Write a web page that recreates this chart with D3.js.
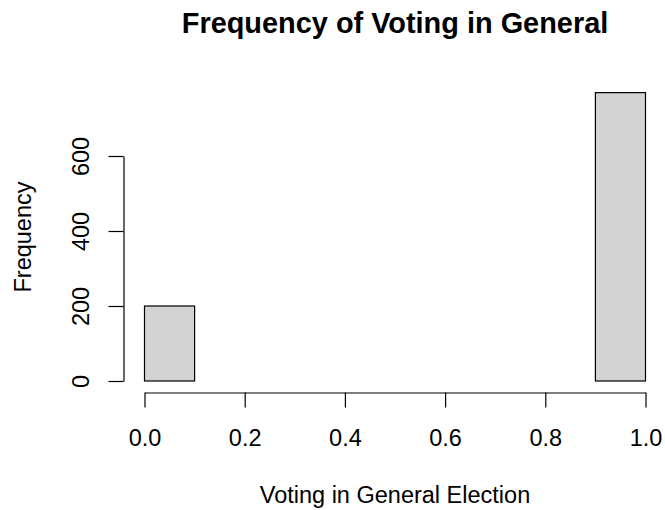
<!DOCTYPE html>
<html>
<head>
<meta charset="utf-8">
<script src="https://cdn.jsdelivr.net/npm/d3@7"></script>
<style>
  body { margin: 0; background: #fff; }
  text { font-family: "Liberation Sans", Arial, sans-serif; fill: #000; }
</style>
</head>
<body>
<div id="chart"></div>
<script>
// histogram of voting in general election
var binEdges = [0, 0.1, 0.2, 0.3, 0.4, 0.5, 0.6, 0.7, 0.8, 0.9, 1.0];
var counts = [200, 0, 0, 0, 0, 0, 0, 0, 0, 769];
var xTicks = [0, 0.2, 0.4, 0.6, 0.8, 1.0];
var yTicks = [0, 200, 400, 600];

var W = 665, H = 510;
var svg = d3.select("#chart").append("svg").attr("width", W).attr("height", H);

var x = d3.scaleLinear().domain([0, 1]).range([144.5, 645.5]);
var y = d3.scaleLinear().domain([0, 600]).range([381, 156]);

var bins = counts.map(function(c, i){ return {x0: binEdges[i], x1: binEdges[i+1], n: c}; });

svg.selectAll("rect.bar").data(bins).enter().append("rect")
    .attr("class", "bar")
    .attr("x", d => x(d.x0))
    .attr("width", d => x(d.x1) - x(d.x0))
    .attr("y", d => y(d.n))
    .attr("height", d => y(0) - y(d.n))
    .attr("fill", "#D3D3D3")
    .attr("stroke", "#000")
    .attr("stroke-width", 1.2);

// x axis
var xa = svg.append("g").attr("transform", "translate(0,392.5)")
    .call(d3.axisBottom(x).tickValues(xTicks).tickFormat(d3.format(".1f")).tickSize(15).tickSizeOuter(0));
xa.select(".domain").attr("stroke-width", 1.2);
xa.selectAll(".tick line").attr("stroke-width", 1.2);
xa.selectAll(".tick text").attr("font-size", 23.5).attr("y", 0).attr("dy", 0)
    .attr("transform", "translate(0,53.5)");

// y axis
var ya = svg.append("g").attr("transform", "translate(123.5,0)")
    .call(d3.axisLeft(y).tickValues(yTicks).tickSize(15).tickSizeOuter(0));
ya.select(".domain").attr("stroke-width", 1.2);
ya.selectAll(".tick line").attr("stroke-width", 1.2);
ya.selectAll(".tick text").attr("font-size", 23.5)
    .attr("x", 0).attr("dy", 0)
    .attr("transform", "translate(-35,0) rotate(-90)")
    .attr("text-anchor", "middle");

svg.selectAll(".domain, .tick line").attr("stroke", "#000");

svg.append("text").attr("x", 395).attr("y", 33)
    .attr("text-anchor", "middle").attr("font-size", 28.9).attr("font-weight", "bold")
    .text("Frequency of Voting in General");

svg.append("text").attr("x", 395).attr("y", 503)
    .attr("text-anchor", "middle").attr("font-size", 23.5)
    .text("Voting in General Election");

svg.append("text").attr("transform", "translate(31,237) rotate(-90)")
    .attr("text-anchor", "middle").attr("font-size", 23.5)
    .text("Frequency");
</script>
</body>
</html>
